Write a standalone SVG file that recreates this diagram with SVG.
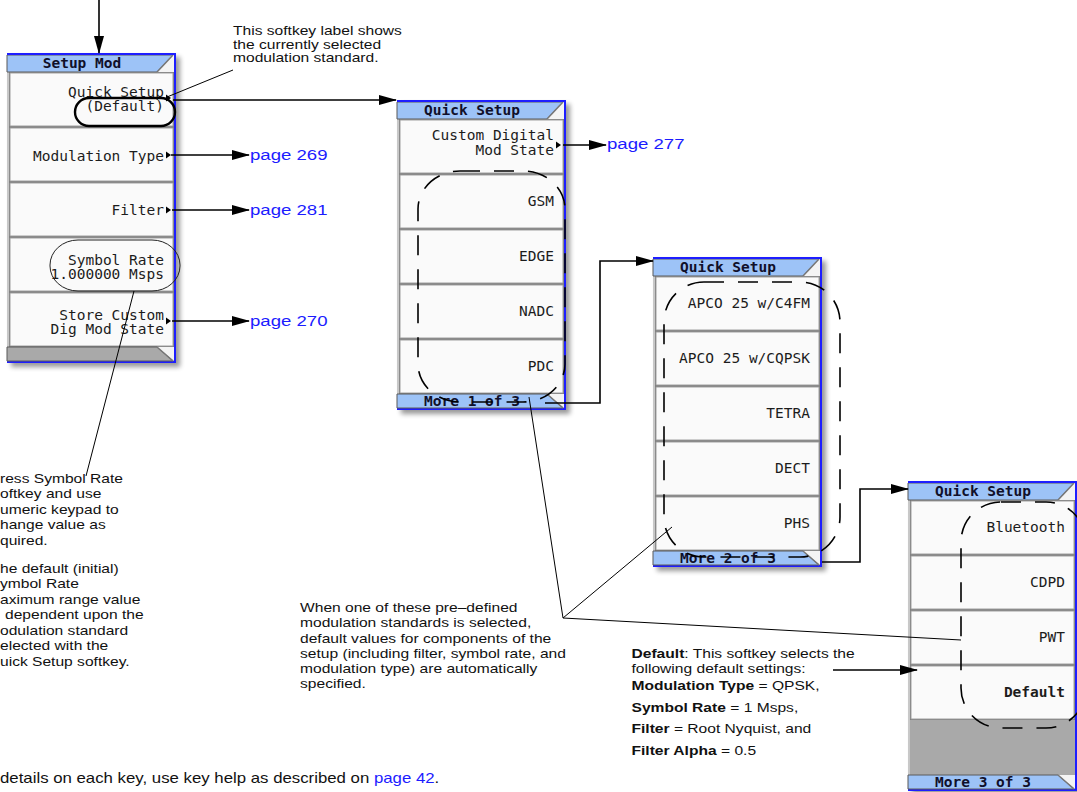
<svg xmlns="http://www.w3.org/2000/svg" width="1077" height="792" viewBox="0 0 1077 792">
<style>
.ann{font-family:"Liberation Sans",Arial,Helvetica,sans-serif;font-size:13px;fill:#111}
.b{font-weight:bold}
.link{fill:#1c1cff}
.pg{font-size:15.5px}
.key{font-family:"DejaVu Sans Mono","Liberation Mono",monospace;font-size:14.5px;fill:#1c1c1c;text-anchor:end}
.ttl{font-family:"DejaVu Sans Mono","Liberation Mono",monospace;font-size:14.5px;font-weight:bold;fill:#10102a;text-anchor:middle}
.btn{fill:#fafafa;stroke:#a0a0a0;stroke-width:1}
.blu{fill:#1e1eff}
.tabb{fill:#9dc3f7;stroke:#5a5a5a;stroke-width:1}
.tabg{fill:#a9a9a9;stroke:#5a5a5a;stroke-width:1}
.corner{fill:#f4f4f4}
.slant{stroke:#777;stroke-width:1.5}
.dash{fill:none;stroke:#000;stroke-width:1.6;stroke-dasharray:20 14}
.ln{fill:none;stroke:#000;stroke-width:1}
.arr{fill:none;stroke:#000;stroke-width:1.6;marker-end:url(#ah)}
.tri{fill:#000}
</style>
<defs>
<filter id="sh" x="-10%" y="-10%" width="130%" height="130%"><feGaussianBlur stdDeviation="2.5"/></filter>
<marker id="ah" markerUnits="userSpaceOnUse" markerWidth="18" markerHeight="10" refX="17" refY="5" orient="auto"><path d="M0,0 L18,5 L0,10 z" fill="#000"/></marker>
<g id="shell">
<rect x="4" y="4" width="169" height="310" fill="#000" opacity="0.4" filter="url(#sh)"/>
<rect width="169" height="310" fill="#777"/>
<rect width="2" height="310" fill="#c8c8c8"/>
<polygon points="0,2 166,2 150,19 0,19" class="tabb"/>
<polygon points="166,2 167,2 167,19 150,19" class="corner"/>
<line x1="150" y1="19" x2="166" y2="2" class="slant"/>
<rect width="169" height="2" class="blu"/>
<rect x="167" width="2" height="310" class="blu"/>
<rect y="308" width="169" height="2" class="blu"/>
</g>
<g id="foot">
<polygon points="150,294 167,294 167,308" class="corner"/>
<line x1="150" y1="294" x2="166" y2="308" class="slant"/>
</g>
<rect id="btn" x="3" width="163" height="53" class="btn"/>
<path id="tri" d="M0,-3.5 L5,0 L0,3.5 z" class="tri"/>
</defs>
<rect width="1077" height="792" fill="#fff"/>

<g id="setup-mod" transform="translate(7,53)">
<use href="#shell"/>
<use href="#btn" y="20"/><use href="#btn" y="75"/><use href="#btn" y="130"/><use href="#btn" y="185"/><use href="#btn" y="240"/>
<polygon points="0,294 150,294 166,308 0,308" class="tabg"/>
<use href="#foot"/>
<text class="ttl" x="75" y="15">Setup Mod</text>
<text class="key" x="157" y="44">Quick Setup</text>
<text class="key" x="157" y="58">(Default)</text>
<use href="#tri" x="159" y="45"/>
<text class="key" x="157" y="108">Modulation Type</text>
<use href="#tri" x="159" y="102"/>
<text class="key" x="157" y="162">Filter</text>
<use href="#tri" x="159" y="157"/>
<text class="key" x="157" y="211.5">Symbol Rate</text>
<text class="key" x="157" y="225.5">1.000000 Msps</text>
<text class="key" x="157" y="266.5">Store Custom</text>
<text class="key" x="157" y="280.5">Dig Mod State</text>
<use href="#tri" x="159" y="268"/>
</g>

<g id="quick-setup-1" transform="translate(397,100)">
<use href="#shell"/>
<use href="#btn" y="20"/><use href="#btn" y="75"/><use href="#btn" y="130"/><use href="#btn" y="185"/><use href="#btn" y="240"/>
<polygon points="0,294 150,294 166,308 0,308" class="tabb"/>
<use href="#foot"/>
<text class="ttl" x="75" y="15">Quick Setup</text>
<text class="key" x="157" y="40">Custom Digital</text>
<text class="key" x="157" y="55">Mod State</text>
<use href="#tri" x="159" y="45"/>
<text class="key" x="157" y="106">GSM</text>
<text class="key" x="157" y="161">EDGE</text>
<text class="key" x="157" y="216">NADC</text>
<text class="key" x="157" y="271">PDC</text>
<text class="ttl" x="75" y="306">More 1 of 3</text>
</g>

<g id="quick-setup-2" transform="translate(653,257)">
<use href="#shell"/>
<use href="#btn" y="20"/><use href="#btn" y="75"/><use href="#btn" y="130"/><use href="#btn" y="185"/><use href="#btn" y="240"/>
<polygon points="0,294 150,294 166,308 0,308" class="tabb"/>
<use href="#foot"/>
<text class="ttl" x="75" y="15">Quick Setup</text>
<text class="key" x="157" y="51">APCO 25 w/C4FM</text>
<text class="key" x="157" y="106">APCO 25 w/CQPSK</text>
<text class="key" x="157" y="161">TETRA</text>
<text class="key" x="157" y="216">DECT</text>
<text class="key" x="157" y="271">PHS</text>
<text class="ttl" x="75" y="306">More 2 of 3</text>
</g>

<g id="quick-setup-3" transform="translate(908,481)">
<use href="#shell"/>
<use href="#btn" y="20"/><use href="#btn" y="75"/><use href="#btn" y="130"/><use href="#btn" y="185"/>
<rect x="2" y="239" width="165" height="55" fill="#a9a9a9"/>
<polygon points="0,294 150,294 166,308 0,308" class="tabb"/>
<use href="#foot"/>
<text class="ttl" x="75" y="15">Quick Setup</text>
<text class="key" x="157" y="51">Bluetooth</text>
<text class="key" x="157" y="106">CDPD</text>
<text class="key" x="157" y="161">PWT</text>
<text class="key b" x="157" y="216">Default</text>
<text class="ttl" x="75" y="306">More 3 of 3</text>
</g>

<g id="highlights">
<rect x="75" y="98" width="100" height="28" rx="14" ry="14" fill="none" stroke="#000" stroke-width="2.4"/>
<rect x="50" y="240" width="130" height="51" rx="28" ry="25" fill="none" stroke="#222" stroke-width="1"/>
<rect x="418" y="171" width="147" height="231" rx="42" ry="38" class="dash"/>
<rect x="664" y="282" width="176" height="275" rx="40" ry="40" class="dash"/>
<rect x="961" y="502" width="125" height="226" rx="40" ry="40" class="dash"/>
</g>

<g id="connectors">
<line x1="99" y1="0" x2="99" y2="53" class="arr"/>
<line x1="173" y1="100" x2="396" y2="100" class="arr"/>
<line x1="171" y1="155" x2="249" y2="155" class="arr"/>
<line x1="172" y1="210" x2="249" y2="210" class="arr"/>
<line x1="172" y1="321" x2="249" y2="321" class="arr"/>
<line x1="563" y1="145" x2="606" y2="145" class="arr"/>
<path d="M545,403 H600 V261 H653" class="arr"/>
<path d="M822,562 H860 V489 H908" class="arr"/>
<line x1="833" y1="670" x2="917" y2="670" class="arr"/>
<line x1="233" y1="70" x2="167" y2="97" class="ln"/>
<line x1="134" y1="291" x2="86" y2="476" class="ln"/>
<line x1="529" y1="397" x2="563" y2="618" class="ln"/>
<line x1="563" y1="618" x2="672" y2="527" class="ln"/>
<line x1="563" y1="618" x2="961" y2="640" class="ln"/>
</g>

<g id="labels">
<g transform="translate(233,0) scale(1.2,1)">
<text class="ann" x="0" y="35.3">This softkey label shows</text>
<text class="ann" x="0" y="48.8">the currently selected</text>
<text class="ann" x="0" y="62.3">modulation standard.</text>
</g>
<g transform="translate(250,0) scale(1.2,1)">
<text class="ann link pg" x="0" y="160.5">page 269</text>
<text class="ann link pg" x="0" y="215.5">page 281</text>
<text class="ann link pg" x="0" y="326">page 270</text>
</g>
<g transform="translate(607,0) scale(1.2,1)">
<text class="ann link pg" x="0" y="149.5">page 277</text>
</g>
<g transform="translate(0,0) scale(1.2,1)">
<text class="ann" x="0" y="483">ress Symbol Rate</text>
<text class="ann" x="0" y="498.5">oftkey and use</text>
<text class="ann" x="0" y="514">umeric keypad to</text>
<text class="ann" x="0" y="529.5">hange value as</text>
<text class="ann" x="0" y="545">quired.</text>
<text class="ann" x="0" y="573">he default (initial)</text>
<text class="ann" x="0" y="588.5">ymbol Rate</text>
<text class="ann" x="0" y="604">aximum range value</text>
<text class="ann" x="4.2" y="619.5">dependent upon the</text>
<text class="ann" x="0" y="635">odulation standard</text>
<text class="ann" x="0" y="650.5">elected with the</text>
<text class="ann" x="0" y="666">uick Setup softkey.</text>
<text class="ann" x="0" y="783" style="font-size:14px">details on each key, use key help as described on <tspan class="link">page 42</tspan>.</text>
</g>
<g transform="translate(300,0) scale(1.2,1)">
<text class="ann" x="0" y="612">When one of these pre–defined</text>
<text class="ann" x="0" y="627.3">modulation standards is selected,</text>
<text class="ann" x="0" y="642.6">default values for components of the</text>
<text class="ann" x="0" y="657.9">setup (including filter, symbol rate, and</text>
<text class="ann" x="0" y="673.2">modulation type) are automatically</text>
<text class="ann" x="0" y="688.5">specified.</text>
</g>
<g transform="translate(631.5,0) scale(1.2,1)">
<text class="ann" x="0" y="658"><tspan class="b">Default</tspan>: This softkey selects the</text>
<text class="ann" x="0" y="673">following default settings:</text>
<text class="ann" x="0" y="690"><tspan class="b">Modulation Type</tspan> = QPSK,</text>
<text class="ann" x="0" y="711.7"><tspan class="b">Symbol Rate</tspan> = 1 Msps,</text>
<text class="ann" x="0" y="733.3"><tspan class="b">Filter</tspan> = Root Nyquist, and</text>
<text class="ann" x="0" y="755"><tspan class="b">Filter Alpha</tspan> = 0.5</text>
</g>
</g>
</svg>
